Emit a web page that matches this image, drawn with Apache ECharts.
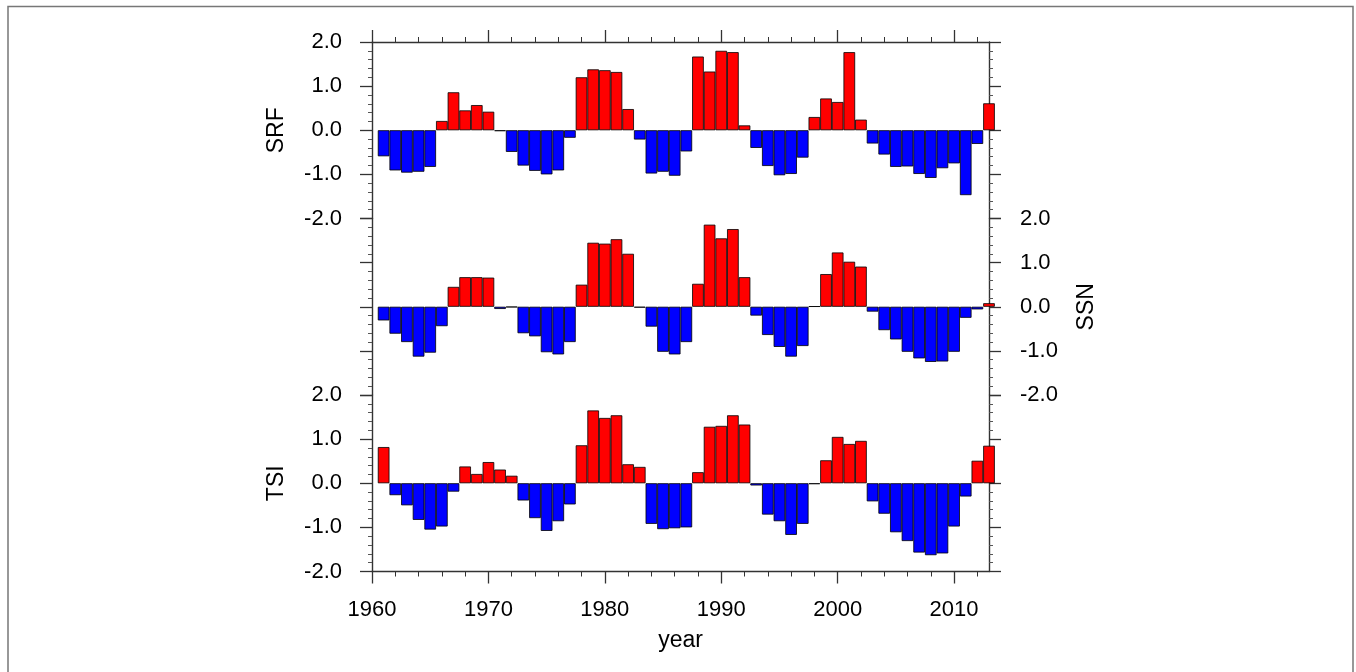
<!DOCTYPE html>
<html>
<head>
<meta charset="utf-8">
<script src="https://cdn.jsdelivr.net/npm/echarts@6/dist/echarts.min.js"></script>
<style>
  html, body { margin: 0; padding: 0; background: #fff; }
  #chart { width: 1356px; height: 672px; }
</style>
</head>
<body>
<div id="chart"></div>
<script>
const years = [1961, 1962, 1963, 1964, 1965, 1966, 1967, 1968, 1969, 1970,
  1971, 1972, 1973, 1974, 1975, 1976, 1977, 1978, 1979, 1980,
  1981, 1982, 1983, 1984, 1985, 1986, 1987, 1988, 1989, 1990,
  1991, 1992, 1993, 1994, 1995, 1996, 1997, 1998, 1999, 2000,
  2001, 2002, 2003, 2004, 2005, 2006, 2007, 2008, 2009, 2010,
  2011, 2012, 2013]

const srf = [-0.59, -0.91, -0.96, -0.94, -0.83, 0.21, 0.86, 0.45, 0.57, 0.42,
  -0.02, -0.49, -0.80, -0.92, -1.00, -0.91, -0.17, 1.20, 1.38, 1.36,
  1.32, 0.48, -0.21, -0.98, -0.94, -1.03, -0.48, 1.67, 1.33, 1.80,
  1.77, 0.11, -0.40, -0.81, -1.02, -0.99, -0.62, 0.30, 0.72, 0.64,
  1.77, 0.24, -0.30, -0.55, -0.83, -0.82, -0.99, -1.08, -0.86, -0.75,
  -1.47, -0.31, 0.61]

const ssn = [-0.31, -0.61, -0.80, -1.13, -1.04, -0.44, 0.45, 0.67, 0.67, 0.66,
  -0.05, -0.01, -0.60, -0.67, -1.03, -1.08, -0.80, 0.50, 1.45, 1.43,
  1.53, 1.20, -0.02, -0.45, -1.02, -1.08, -0.80, 0.52, 1.86, 1.55,
  1.76, 0.67, -0.20, -0.64, -0.91, -1.13, -0.89, 0.01, 0.74, 1.23,
  1.02, 0.91, -0.11, -0.53, -0.74, -1.02, -1.17, -1.25, -1.24, -1.02,
  -0.25, -0.06, 0.08]

const tsi = [0.82, -0.27, -0.50, -0.83, -1.05, -0.98, -0.19, 0.38, 0.21, 0.48,
  0.31, 0.17, -0.39, -0.79, -1.08, -0.86, -0.48, 0.86, 1.65, 1.48,
  1.54, 0.43, 0.37, -0.92, -1.04, -1.02, -1.00, 0.25, 1.28, 1.30,
  1.54, 1.33, -0.05, -0.71, -0.86, -1.17, -0.92, -0.02, 0.52, 1.05,
  0.89, 0.96, -0.41, -0.69, -1.11, -1.31, -1.57, -1.63, -1.59, -0.98,
  -0.30, 0.51, 0.85]

const xMajorTicks = [1960, 1970, 1980, 1990, 2000, 2010]
const xMinorTicks = [1962, 1964, 1966, 1968, 1972, 1974, 1976, 1978,
  1982, 1984, 1986, 1988, 1992, 1994, 1996, 1998,
  2002, 2004, 2006, 2008, 2012]

const FONT = "'Liberation Sans', Arial, sans-serif"
const AXC = "#333"

const chart = echarts.init(document.getElementById("chart"))

const grids = [
  { left: 372, width: 617, top: 42, height: 176.5 },
  { left: 372, width: 617, top: 218.5, height: 176.5 },
  { left: 372, width: 617, top: 395, height: 176.5 }
]

const yAx = (gridIndex, position, showLabel, name) => ({
  type: "value",
  gridIndex,
  position,
  min: -2,
  max: 2,
  interval: 1,
  axisLine: { show: true, onZero: false, lineStyle: { color: AXC, width: 1.4 } },
  axisTick: { show: true, inside: false, length: 12, lineStyle: { color: AXC, width: 1.3 } },
  minorTick: { show: true, splitNumber: 5, length: 4, lineStyle: { color: "#555", width: 1 } },
  splitLine: { show: false },
  minorSplitLine: { show: false },
  axisLabel: {
    show: showLabel,
    formatter: (v) => v.toFixed(1),
    fontSize: 22,
    fontFamily: FONT,
    color: "#000",
    margin: position === "left" ? 30 : 31
  },
  name: name || "",
  nameLocation: "middle",
  nameGap: position === "left" ? 84 : 86,
  nameRotate: 90,
  nameTextStyle: { fontSize: 23, fontFamily: FONT, color: "#000" }
})

const xMajor = (gridIndex, position, showLabel, name) => ({
  type: "value",
  gridIndex,
  position,
  min: 1960,
  max: 2013,
  axisLine: { show: true, onZero: false, lineStyle: { color: AXC, width: 1.4 } },
  axisTick: { show: true, inside: false, length: 12, customValues: xMajorTicks, lineStyle: { color: AXC, width: 1.3 } },
  splitLine: { show: false },
  axisLabel: {
    show: showLabel,
    customValues: xMajorTicks,
    formatter: (v) => String(v),
    fontSize: 22,
    fontFamily: FONT,
    color: "#000",
    margin: 27
  },
  name: name || "",
  nameLocation: "middle",
  nameGap: 58,
  nameTextStyle: { fontSize: 23, fontFamily: FONT, color: "#000" }
})

const xMinor = (gridIndex, position) => ({
  type: "value",
  gridIndex,
  position,
  min: 1960,
  max: 2013,
  axisLine: { show: false, onZero: false },
  axisTick: { show: true, inside: false, length: 5, customValues: xMinorTicks, lineStyle: { color: AXC, width: 1 } },
  axisLabel: { show: false },
  splitLine: { show: false }
})

const barColor = (p) => (p.value[1] >= 0 ? "#ff0000" : "#0000ff")

const barSeries = (values, xi, yi) => ({
  type: "bar",
  xAxisIndex: xi,
  yAxisIndex: yi,
  barWidth: 11.64,
  clip: true,
  data: years.map((y, i) => [y, values[i]]),
  itemStyle: { color: barColor, borderColor: "#000", borderWidth: 0.8 }
})

const option = {
  animation: false,
  backgroundColor: "#fff",
  graphic: [
    {
      type: "rect",
      shape: { x: 8, y: 6.5, width: 1345, height: 700 },
      style: { fill: "none", stroke: "#777", lineWidth: 1.5 },
      silent: true
    }
  ],
  grid: grids,
  xAxis: [
    xMajor(0, "top", false),
    xMinor(0, "top"),
    { type: "value", gridIndex: 1, min: 1960, max: 2013, show: false },
    xMajor(2, "bottom", true, "year"),
    xMinor(2, "bottom")
  ],
  yAxis: [
    yAx(0, "left", true, "SRF"),
    yAx(0, "right", false),
    yAx(1, "left", false),
    yAx(1, "right", true, "SSN"),
    yAx(2, "left", true, "TSI"),
    yAx(2, "right", false)
  ],
  series: [
    barSeries(srf, 0, 0),
    barSeries(ssn, 2, 3),
    barSeries(tsi, 3, 4)
  ]
}

chart.setOption(option)
</script>
</body>
</html>
